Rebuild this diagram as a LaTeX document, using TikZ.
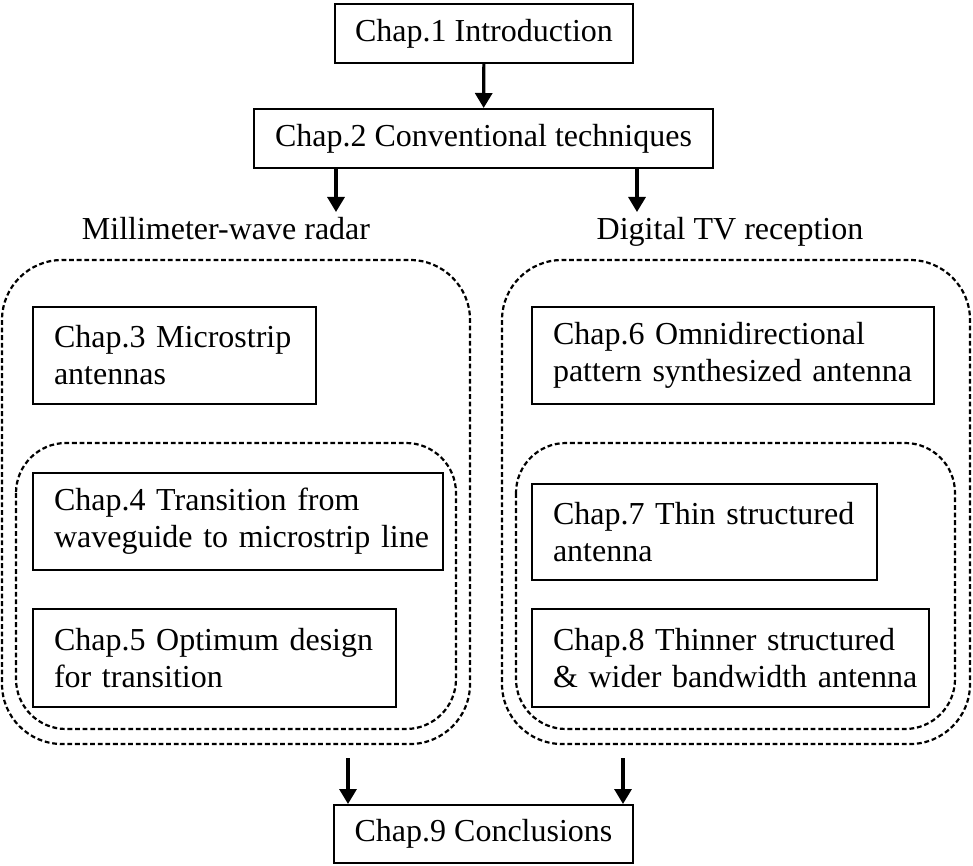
\documentclass[tikz,border=0pt]{standalone}
\usepackage{fontspec}
\setmainfont{Liberation Serif}
\usetikzlibrary{arrows.meta, positioning}
\tikzset{
  chapbox/.style={draw, line width=1pt, inner ysep=0pt, font=\fontsize{16}{18.5}\selectfont},
  onebox/.style={chapbox, minimum height=29.5pt},
  twobox/.style={chapbox, anchor=north west, align=left, inner xsep=10.5pt, minimum height=48.5pt},
  grouplabel/.style={anchor=base, font=\fontsize{16}{18.5}\selectfont},
  groupframe/.style={draw, line width=1.1pt, dash pattern=on 2.4pt off 1.4pt},
  arrow/.style={-{Triangle[length=7.5pt, width=8.5pt]}, line width=1.6pt}
}

\begin{document}
\begin{tikzpicture}[x=0.5pt, y=-0.5pt]
\useasboundingbox (0,0) rectangle (973,866);
% top
\node[onebox, minimum width=149pt] (intro) at (484,33.5) {Chap.1 Introduction};
\node[onebox, minimum width=229.5pt] (conv) at (483.5,138.5) {Chap.2 Conventional techniques};
\draw[arrow] (intro) -- (conv);
% two branches
\node[grouplabel] (radar) at (226,240) {Millimeter-wave radar};
\node[grouplabel] (tv) at (730,240) {Digital TV reception};
\coordinate (radarin) at (336,212);
\coordinate (tvin) at (637,212);
\draw[arrow] (conv.south -| radarin) -- (radarin);
\draw[arrow] (conv.south -| tvin) -- (tvin);
% millimeter-wave radar
\draw[groupframe, rounded corners=30pt] (2,260) rectangle (470,744);
\draw[groupframe, rounded corners=25pt] (16,443) rectangle (456,729);
\node[twobox, text width=120.5pt] (micro) at (32,306) {\mbox{Chap.3 Microstrip}\\\mbox{antennas}};
\node[twobox, text width=184pt] (trans) at (32,472) {\mbox{Chap.4 Transition from}\\\mbox{waveguide to microstrip line}};
\node[twobox, text width=160.5pt, minimum height=49pt] (optim) at (32,608) {\mbox{Chap.5 Optimum design}\\\mbox{for transition}};
% digital TV reception
\draw[groupframe, rounded corners=30pt] (502,260) rectangle (970,744);
\draw[groupframe, rounded corners=25pt] (516,443) rectangle (955,729);
\node[twobox, text width=180pt] (omni) at (531,306) {\mbox{Chap.6 Omnidirectional}\\\mbox{pattern synthesized antenna}};
\node[twobox, text width=151.5pt, minimum height=48pt] (thin) at (531,483) {\mbox{Chap.7 Thin structured}\\\mbox{antenna}};
\node[twobox, text width=177.5pt, minimum height=49pt] (thinner) at (531,608) {\mbox{Chap.8 Thinner structured}\\\mbox{\& wider bandwidth antenna}};
% bottom
\node[onebox, minimum width=149.5pt, minimum height=29pt] (concl) at (483.5,834) {Chap.9 Conclusions};
\coordinate (radarout) at (348,758);
\coordinate (tvout) at (623,758);
\draw[arrow] (radarout) -- (radarout |- concl.north);
\draw[arrow] (tvout) -- (tvout |- concl.north);
\end{tikzpicture}
\end{document}
